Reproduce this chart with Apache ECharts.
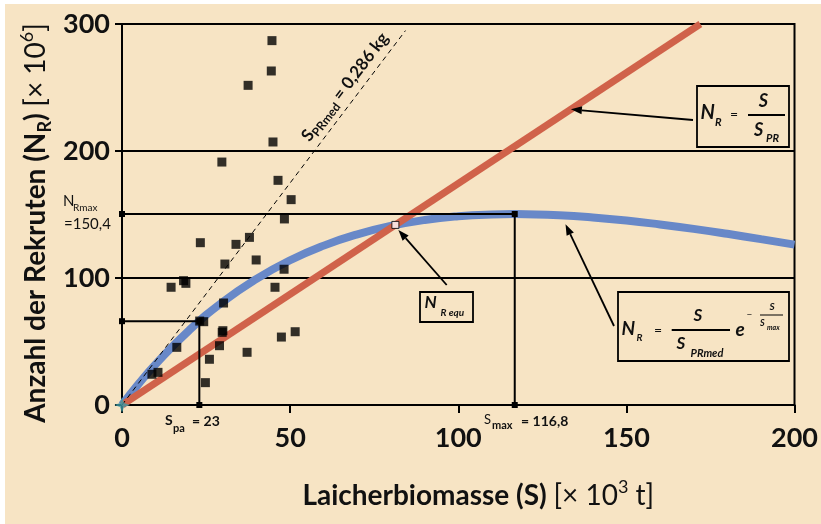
<!DOCTYPE html>
<html><head><meta charset="utf-8">
<script src="https://cdn.jsdelivr.net/npm/echarts@6/dist/echarts.min.js"></script>
<style>
html,body{margin:0;padding:0;background:#fff;}
#bg{position:absolute;left:5px;top:4px;width:816px;height:520px;background:#F7E4C4;}
#chart{position:absolute;left:0;top:0;width:821px;height:524px;}
</style></head><body>
<div id="bg"></div><div id="chart"></div>
<script>
// ---- data ----
const xTicks = [0, 50, 100, 150, 200];
const yTicks = [0, 100, 200, 300];
// observed stock-recruitment points (S in 10^3 t, N_R in 10^6)
const scatterS = [44.6, 44.4, 37.5, 44.9, 29.7, 46.4, 50.3, 48.3, 23.3, 33.9, 37.9, 30.6, 39.9, 48.2, 14.6, 18.3, 19.0, 45.5, 30.2, 23.1, 24.3, 30.0, 29.8, 51.5, 47.4, 29.0, 37.2, 16.3, 26.0, 8.9, 10.7, 24.8];
const scatterN = [286.9, 263.0, 251.7, 207.1, 191.3, 176.9, 161.7, 146.5, 127.8, 126.5, 132.0, 111.0, 114.2, 106.9, 92.7, 97.9, 95.8, 92.7, 80.3, 66.1, 65.6, 58.5, 57.2, 57.7, 53.5, 46.7, 41.5, 45.4, 36.0, 24.2, 25.7, 17.6];
// Ricker curve (blue)
const blueS = [0, 5, 10, 20, 30, 40, 50, 60, 70, 80, 90, 100, 110, 116.8, 120, 130, 140, 150, 160, 170, 180, 190, 200];
const blueN = [0, 16.8, 32.1, 58.9, 81.2, 99.3, 114.0, 125.5, 134.4, 141.0, 145.7, 148.6, 150.0, 150.3, 150.2, 149.4, 147.7, 145.3, 142.2, 138.7, 134.8, 130.6, 126.3];
// replacement line N_R = S / S_PR (red)
const redS = [0, 172];
const redN = [0, 300];
// S_PRmed line (dashed)
const dashS = [0, 84.3];
const dashN = [0, 294.8];
// reference points
const spaS = [0, 23, 23];
const spaN = [66, 66, 0];
const smaxS = [0, 116.8, 116.8];
const smaxN = [150.4, 150.4, 0];
const eqS = [81.3];
const eqN = [141.8];

const F = 'Lato, "Noto Sans", sans-serif';
const zip = (a, b) => a.map((v, i) => [v, b[i]]);

const chart = echarts.init(document.getElementById('chart'), null, {renderer: 'canvas'});

const titleRich = {
  b: {fontFamily: F, fontWeight: 'bold', fontSize: 28, color: '#111', fill: '#111', lineHeight: 36},
  r: {fontFamily: F, fontWeight: 'normal', fontSize: 28, color: '#111', fill: '#111', lineHeight: 36},
  sub: {fontFamily: F, fontWeight: 'bold', fontSize: 18, color: '#111', fill: '#111', lineHeight: 18, verticalAlign: 'bottom'},
  sup: {fontFamily: F, fontWeight: 'normal', fontSize: 18, color: '#111', fill: '#111', lineHeight: 18, verticalAlign: 'top'}
};

const option = {
  animation: false,
  backgroundColor: 'transparent',
  grid: {left: 122, top: 24, right: 23, bottom: 119, show: true, borderColor: '#000', borderWidth: 2, backgroundColor: 'transparent'},
  xAxis: {
    type: 'value', min: xTicks[0], max: xTicks[xTicks.length - 1], interval: 50,
    axisLine: {show: true, onZero: false, lineStyle: {color: '#000', width: 2}},
    axisTick: {show: true, inside: false, length: 8, lineStyle: {color: '#000', width: 2}},
    splitLine: {show: false},
    axisLabel: {margin: 20, fontSize: 27, fontFamily: F, fontWeight: 'bold', color: '#111'},
    name: '{b|Laicherbiomasse (S)}  {r|[× 10}{sup|3}{r| t]}',
    nameLocation: 'middle', nameGap: 73,
    nameTextStyle: {padding: [0, 0, 0, 40], rich: titleRich}
  },
  yAxis: {
    type: 'value', min: yTicks[0], max: yTicks[yTicks.length - 1], interval: 100,
    axisLine: {show: true, lineStyle: {color: '#000', width: 2}},
    axisTick: {show: true, inside: false, length: 7, lineStyle: {color: '#000', width: 2}},
    splitLine: {show: true, lineStyle: {color: '#000', width: 2}},
    axisLabel: {margin: 12, fontSize: 27, fontFamily: F, fontWeight: 'bold', color: '#111'}
  },
  series: [
    {type: 'line', name: 'ricker', data: zip(blueS, blueN), smooth: true, symbol: 'none', z: 2,
     lineStyle: {color: '#6888C8', width: 8}, silent: true},
    {type: 'line', name: 'spr', data: zip(redS, redN), symbol: 'none', z: 3, clip: false,
     lineStyle: {color: '#D0624A', width: 7}, silent: true},
    {type: 'line', name: 'sprmed', data: zip(dashS, dashN), symbol: 'none', z: 3,
     lineStyle: {color: '#000', width: 1, type: [5, 4]}, silent: true},
    {type: 'line', name: 'spa', data: zip(spaS, spaN), symbol: 'rect', symbolSize: 6, showSymbol: true, z: 4,
     lineStyle: {color: '#000', width: 2}, itemStyle: {color: '#000'}, silent: true},
    {type: 'line', name: 'smax', data: zip(smaxS, smaxN), symbol: 'rect', symbolSize: 6, showSymbol: true, z: 4,
     lineStyle: {color: '#000', width: 2}, itemStyle: {color: '#000'}, silent: true},
    {type: 'scatter', name: 'obs', data: zip(scatterS, scatterN), symbol: 'rect', symbolSize: 9, z: 5,
     itemStyle: {color: '#000'}, silent: true},
    {type: 'scatter', name: 'eq', data: zip(eqS, eqN), symbol: 'rect', symbolSize: 7, z: 6,
     itemStyle: {color: '#fff', borderColor: '#000', borderWidth: 1}, silent: true},
    {type: 'scatter', name: 'origin', data: [[0, 0]], symbol: 'path://M0,-10 L2.5,-2.5 L10,0 L2.5,2.5 L0,10 L-2.5,2.5 L-10,0 L-2.5,-2.5 Z',
     symbolSize: 16, z: 7, itemStyle: {color: '#3D9AA5'}, silent: true}
  ]
};
chart.setOption(option);

// ---- annotations ----
const P = (x, y) => chart.convertToPixel({gridIndex: 0}, [x, y]);
function t(x, y, text, size, o) {
  o = o || {};
  return {type: 'text', x: x, y: y, z: 100, silent: true,
    style: {text: text, fontSize: size, fontFamily: F, fontWeight: o.w || 'bold', fontStyle: o.i ? 'italic' : 'normal',
      fill: '#111', align: o.a || 'left', verticalAlign: 'middle'}};
}
function ln(x1, y1, x2, y2, w) {
  return {type: 'line', z: 100, silent: true, shape: {x1: x1, y1: y1, x2: x2, y2: y2}, style: {stroke: '#000', lineWidth: w || 2}};
}
function box(x, y, w, h) {
  return {type: 'rect', z: 99, silent: true, shape: {x: x, y: y, width: w, height: h}, style: {fill: 'none', stroke: '#000', lineWidth: 1.8}};
}
function arrow(x1, y1, x2, y2) {
  const dx = x2 - x1, dy = y2 - y1, L = Math.hypot(dx, dy);
  const ux = dx / L, uy = dy / L, nx = -uy, ny = ux;
  const bx = x2 - ux * 11, by = y2 - uy * 11;
  return [ln(x1, y1, bx, by, 1.8),
    {type: 'polygon', z: 101, silent: true, shape: {points: [[x2, y2], [bx + nx * 4, by + ny * 4], [bx - nx * 4, by - ny * 4]]}, style: {fill: '#000'}}];
}

const tipRed = P(133.5, 232.8);
const tipEq = P(eqS[0], eqN[0]);
const tipBlue = P(131.9, 145.5);

const g = [];
// y-axis title
g.push({type: 'text', x: 36, y: 223, rotation: Math.PI / 2, z: 100, silent: true,
  style: {text: '{b|Anzahl der Rekruten (N}{sub|R}{b|)}  {r|[× 10}{sup|6}{r|]}', align: 'center', verticalAlign: 'middle', rich: titleRich}});

// box 1: N_R = S / S_PR
g.push(box(697, 86, 92, 61));
g.push(t(700.5, 113, 'N', 20, {i: 1}));
g.push(t(715, 122, 'R', 11, {i: 1}));
g.push(t(730, 114, '=', 14, {w: 'normal'}));
g.push(t(763.5, 101, 'S', 18, {i: 1, a: 'center'}));
g.push(ln(748, 115, 785, 115, 2));
g.push(t(754, 130.5, 'S', 18, {i: 1}));
g.push(t(766, 138, 'PR', 11, {i: 1}));
g.push(...arrow(693, 120, tipRed[0], tipRed[1]));

// box 2: N_R equ
g.push(box(420, 292, 53, 30));
g.push(t(424.5, 303, 'N', 17, {i: 1}));
g.push(t(440.5, 313, 'R equ', 10, {i: 1}));
g.push(...arrow(446.7, 285, tipEq[0] + 3, tipEq[1] + 5));

// box 3: Ricker
g.push(box(618, 292, 171, 69));
g.push(t(621.5, 328.5, 'N', 19, {i: 1}));
g.push(t(636.5, 338, 'R', 10, {i: 1}));
g.push(t(654, 330, '=', 14, {w: 'normal'}));
g.push(t(698, 316, 'S', 17, {i: 1, a: 'center'}));
g.push(ln(671.7, 330, 730, 330, 2));
g.push(t(676.5, 344, 'S', 17, {i: 1}));
g.push(t(690.5, 353, 'PRmed', 11, {i: 1}));
g.push(t(735.5, 330, 'e', 19, {i: 1}));
g.push(t(746.5, 315, '−', 10, {w: 'normal'}));
g.push(t(772, 307, 'S', 10, {i: 1, a: 'center'}));
g.push(ln(760, 315, 783, 315, 1));
g.push(t(760, 323.5, 'S', 9, {i: 1}));
g.push(t(767, 327.5, 'max', 7, {i: 1}));
g.push(...arrow(614, 326, tipBlue[0], tipBlue[1] + 4));

// left label N_Rmax
g.push(t(63, 201.5, 'N', 15, {w: 'normal'}));
g.push(t(73, 207.5, 'Rmax', 10, {w: 'normal'}));
g.push(t(64, 224, '=150,4', 15, {w: 'normal'}));
// bottom labels
g.push(t(165, 420, 'S', 14));
g.push(t(173, 428, 'pa', 11));
g.push(t(192, 421, '= 23', 14));
g.push(t(484, 420, 'S', 13, {w: 'normal'}));
g.push(t(492, 425, 'max', 11));
g.push(t(521, 421, '= 116,8', 14));
// rotated S_PRmed label
g.push({type: 'text', x: 345, y: 87, rotation: 52.6 * Math.PI / 180, z: 100, silent: true,
  style: {text: '{a|S}{s|PRmed}{a| = 0,286 kg}', align: 'center', verticalAlign: 'middle',
    rich: {
      a: {fontFamily: F, fontWeight: 'bold', fontSize: 17, fill: '#111', lineHeight: 22},
      s: {fontFamily: F, fontWeight: 'bold', fontSize: 12, fill: '#111', lineHeight: 12, verticalAlign: 'bottom'}
    }}});

chart.setOption({graphic: g});
</script>
</body></html>
